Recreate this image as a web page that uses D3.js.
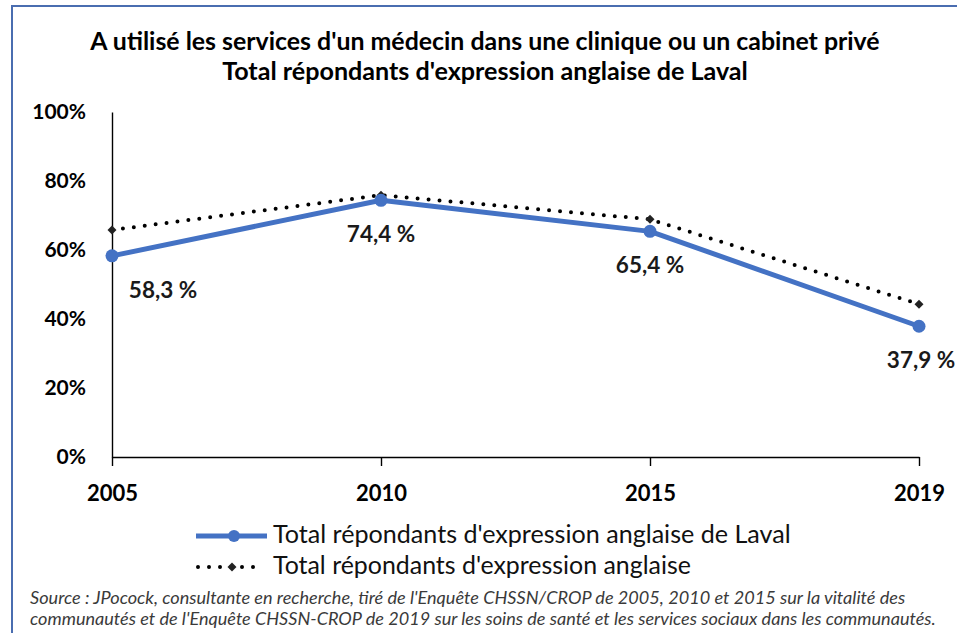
<!DOCTYPE html>
<html>
<head>
<meta charset="utf-8">
<script src="https://cdn.jsdelivr.net/npm/d3@7"></script>
<style>
  body { margin: 0; background: #fff; }
  text { font-family: Lato, "Liberation Sans", sans-serif; }
</style>
</head>
<body>
<svg width="957" height="633"></svg>
<script>
var years = ["2005", "2010", "2015", "2019"];
var laval = [58.3, 74.4, 65.4, 37.9];
var anglo = [65.8, 75.9, 68.9, 44.3];
var lavalLabels = ["58,3 %", "74,4 %", "65,4 %", "37,9 %"];
var yTicks = [0, 20, 40, 60, 80, 100];
var titleLines = [
  "A utilisé les services d'un médecin dans une clinique ou un cabinet privé",
  "Total répondants d'expression anglaise de Laval"
];
var legendNames = [
  "Total répondants d'expression anglaise de Laval",
  "Total répondants d'expression anglaise"
];
var sourceLines = [
  "Source : JPocock, consultante en recherche, tiré de l'Enquête CHSSN/CROP de 2005, 2010 et 2015 sur la vitalité des",
  "communautés et de l'Enquête CHSSN-CROP de 2019 sur les soins de santé et les services sociaux dans les communautés."
];

var svg = d3.select("svg"),
    width = +svg.attr("width"),
    height = +svg.attr("height");

var blue = "#4472C4";

// shrink/grow a text so it takes the width it has in the picture
function fit(sel, w) {
  var n = sel.node(), cur = n.getComputedTextLength();
  var fs = parseFloat(sel.attr("font-size"));
  sel.attr("font-size", fs * w / cur);
}

// frame
svg.append("path")
    .attr("d", "M12," + height + "V6H" + width)
    .attr("fill", "none")
    .attr("stroke", "#4a6db0")
    .attr("stroke-width", 2);

var x = d3.scalePoint().domain(years).range([112, 919]);
var y = d3.scaleLinear().domain([0, 100]).range([457, 112]);

// title
var titleW = [790, 526];
titleLines.forEach(function(t, i) {
  var tt = svg.append("text")
      .attr("x", 485)
      .attr("y", 50 + i * 30)
      .attr("text-anchor", "middle")
      .attr("font-weight", "bold")
      .attr("font-size", 20)
      .attr("fill", "#000")
      .text(t);
  fit(tt, titleW[i]);
});

// axes
var yAxis = svg.append("g")
    .attr("transform", "translate(112,0)")
    .call(d3.axisLeft(y).tickValues(yTicks).tickSize(0).tickSizeOuter(0).tickPadding(26)
      .tickFormat(function(d) { return d + "%"; }));
yAxis.selectAll("text").attr("font-size", 21).attr("font-weight", "bold").attr("fill", "#000")
    .style("font-family", "Lato");
yAxis.select(".domain").attr("stroke", "#000").attr("stroke-width", 1.4);

var xAxis = svg.append("g")
    .attr("transform", "translate(0,457)")
    .call(d3.axisBottom(x).tickSize(9).tickSizeOuter(0).tickPadding(19));
xAxis.selectAll("text").attr("font-size", 22).attr("font-weight", "bold").attr("fill", "#000")
    .style("font-family", "Lato");
xAxis.selectAll("line").attr("stroke", "#000").attr("stroke-width", 1.4);
xAxis.select(".domain").attr("stroke", "#000").attr("stroke-width", 1.4);

// lines
var line = d3.line()
    .x(function(d, i) { return x(years[i]); })
    .y(function(d) { return y(d); });

svg.append("path")
    .datum(anglo)
    .attr("d", line)
    .attr("fill", "none")
    .attr("stroke", "#000")
    .attr("stroke-width", 4)
    .attr("stroke-linecap", "round")
    .attr("stroke-dasharray", "0 11");

svg.append("path")
    .datum(laval)
    .attr("d", line)
    .attr("fill", "none")
    .attr("stroke", blue)
    .attr("stroke-width", 5)
    .attr("stroke-linejoin", "round");

// Excel-style diamond: a square turned 45 degrees
var diamond = d3.symbol().type(d3.symbolSquare).size(40);

svg.append("g").selectAll("path")
    .data(anglo)
    .enter().append("path")
      .attr("d", diamond)
      .attr("transform", function(d, i) { return "translate(" + x(years[i]) + "," + y(d) + ") rotate(45)"; })
      .attr("fill", "#222");

svg.append("g").selectAll("circle")
    .data(laval)
    .enter().append("circle")
      .attr("cx", function(d, i) { return x(years[i]); })
      .attr("cy", function(d) { return y(d); })
      .attr("r", 6.5)
      .attr("fill", blue);

// data labels
var labelDx = [51, 0, 0, 2];
svg.append("g").selectAll("text")
    .data(laval)
    .enter().append("text")
      .attr("x", function(d, i) { return x(years[i]) + labelDx[i]; })
      .attr("y", function(d) { return y(d) + 42; })
      .attr("text-anchor", "middle")
      .attr("font-size", 22.5)
      .attr("font-weight", "bold")
      .attr("fill", "#1a1a1a")
      .text(function(d, i) { return lavalLabels[i]; });

// legend
var leg = svg.append("g");
var rowsY = [536, 567];
leg.append("line")
    .attr("x1", 196).attr("x2", 267).attr("y1", rowsY[0]).attr("y2", rowsY[0])
    .attr("stroke", blue).attr("stroke-width", 5);
leg.append("circle").attr("cx", 234).attr("cy", rowsY[0]).attr("r", 6).attr("fill", blue);
leg.append("line")
    .attr("x1", 198).attr("x2", 264).attr("y1", rowsY[1]).attr("y2", rowsY[1])
    .attr("stroke", "#000").attr("stroke-width", 4)
    .attr("stroke-linecap", "round").attr("stroke-dasharray", "0 11");
leg.append("path").attr("d", diamond)
    .attr("transform", "translate(232," + rowsY[1] + ") rotate(45)").attr("fill", "#222");

var legW = [518, 418];
legendNames.forEach(function(t, i) {
  var lt = leg.append("text")
      .attr("x", 273)
      .attr("y", rowsY[i] + 7)
      .attr("font-size", 21)
      .attr("fill", "#111")
      .text(t);
  fit(lt, legW[i]);
});

// source
var srcW = [876, 906];
sourceLines.forEach(function(t, i) {
  var st = svg.append("text")
      .attr("x", 30)
      .attr("y", 604 + i * 21)
      .attr("font-size", 14)
      .attr("font-style", "italic")
      .attr("fill", "#3a3a3a")
      .text(t);
  fit(st, srcW[i]);
});
</script>
</body>
</html>
